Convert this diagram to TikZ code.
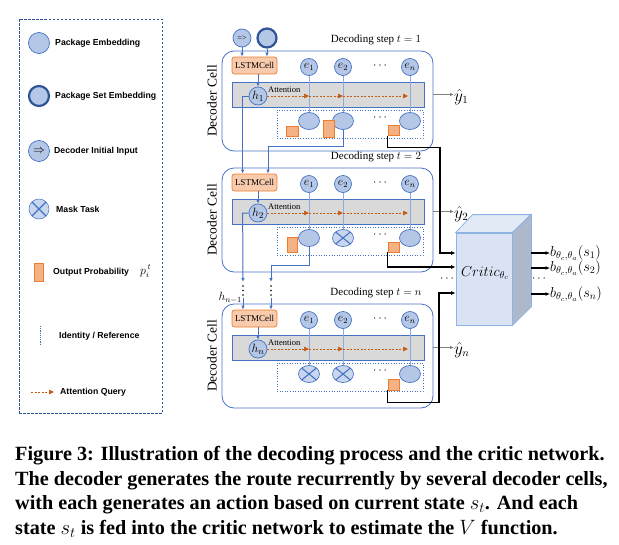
\documentclass[tikz,border=0pt]{standalone}
\usepackage{fontspec}
\setmainfont{Liberation Serif}
\newfontfamily\legfont{Liberation Sans}
\usetikzlibrary{arrows.meta,shapes.geometric,calc}
\pgfdeclarelayer{back}
\pgfdeclarelayer{mid}
\pgfsetlayers{back,mid,main}
\definecolor{cblue}{HTML}{4472C4}
\definecolor{cdark}{HTML}{2F5597}
\definecolor{cfill}{HTML}{B4C7E7}
\definecolor{mfill}{HTML}{C9D7EE}
\definecolor{corange}{HTML}{ED7D31}
\definecolor{ofill}{HTML}{F4B183}
\definecolor{lfill}{HTML}{F8CBAD}
\definecolor{gfill}{HTML}{D9D9D9}
\definecolor{catt}{HTML}{C55A11}
\definecolor{cident}{HTML}{8FAADC}
\definecolor{critf}{HTML}{DAE3F3}
\definecolor{critt}{HTML}{E2EAF6}
\definecolor{crits}{HTML}{ADB9CA}
\definecolor{critb}{HTML}{8DB4E2}

\newcommand\mkcell[6]{%
  \begin{pgfonlayer}{back}
    \node[cellbox, minimum width=211pt, minimum height={(#3-#2)*1pt}] (cell#1) at ({327.5},{(#2+#3)/2}) {};
    \node[bar] (bar#1) at (328,#2+43.5) {};
    \node[outbox] (ob#1) at (350,#2+73) {};
  \end{pgfonlayer}
  \node[rotate=90, font=\fontsize{13.5}{13.5}\selectfont] (dc#1) at (212,{(#2+#3)/2}) {Decoder Cell};
  \node[font=\fontsize{11}{11}\selectfont] (st#1) at (376,#2-11) {Decoding step $t=#4$};
  \node[lstm] (lstm#1) at (254.5,#2+14.5) {LSTMCell};
  \node[emb] (ea#1) at (309,#2+16) {$e_1$};
  \node[emb] (eb#1) at (343,#2+16) {$e_2$};
  \node[emb] (en#1) at (410,#2+16) {$e_n$};
  \node[font=\fontsize{12}{12}\selectfont] (ed#1) at (380,#2+15) {$\cdots$};
  \node[emb, minimum size=18pt, font=\fontsize{12.5}{12.5}\selectfont] (h#1) at (258,#2+45) {$h_{#4}$};
  \node[anchor=west, inner sep=0pt, font=\fontsize{8.5}{8.5}\selectfont] (at#1) at (268,#2+38.5) {Attention};
  \node[#5] (oa#1) at (309,#2+70) {};
  \node[#6] (obb#1) at (343,#2+70) {};
  \node[outemb] (on#1) at (410,#2+70) {};
  \node[font=\fontsize{12}{12}\selectfont] (od#1) at (380,#2+67) {$\cdots$};
  \begin{pgfonlayer}{mid}
    \draw[ident] (ea#1) -- (oa#1);
    \draw[ident] (eb#1) -- (obb#1);
    \draw[ident] (en#1) -- (on#1);
  \end{pgfonlayer}
  \draw[conn] (h#1.north |- lstm#1.south) -- (h#1.north);
  \draw[att] (h#1.east) -- (ea#1 |- h#1.east);
  \draw[att] (ea#1 |- h#1.east) -- (eb#1 |- h#1.east);
  \draw[att] (eb#1 |- h#1.east) -- ([xshift=-2pt]en#1 |- h#1.east);
  \node[anchor=west, inner sep=0pt, font=\fontsize{16}{16}\selectfont] (yh#1) at (454,#2+46) {$\hat{y}_{#4}$};
  \draw[yout] (cell#1.east |- bar#1) -- (yh#1.west |- bar#1);
}

\begin{document}
\begin{tikzpicture}[x=1pt,y=-1pt,
  emb/.style={circle, draw=cblue, fill=cfill, line width=0.7pt, inner sep=0pt, minimum size=17pt, font=\fontsize{12}{12}\selectfont},
  outemb/.style={ellipse, draw=cblue, fill=cfill, line width=0.7pt, inner sep=0pt, minimum width=21pt, minimum height=17pt},
  maskx/.style={fill=mfill, path picture={\draw[cblue, line width=1.1pt] (path picture bounding box.north west) -- (path picture bounding box.south east) (path picture bounding box.south west) -- (path picture bounding box.north east);}},
  maskemb/.style={outemb, maskx},
  prob/.style={draw=corange, fill=ofill, line width=0.6pt, inner sep=0pt},
  lstm/.style={draw=corange, fill=lfill, rounded corners=2.5pt, line width=0.7pt, minimum width=45pt, minimum height=17pt, inner sep=0pt, font=\fontsize{9}{9}\selectfont},
  bar/.style={draw=cblue, fill=gfill, line width=0.7pt, minimum width=192pt, minimum height=25pt, inner sep=0pt},
  outbox/.style={draw=cblue, dotted, line width=0.6pt, minimum width=146pt, minimum height=28pt, inner sep=0pt},
  cellbox/.style={draw=cblue, line width=0.8pt, rounded corners=12pt, inner sep=0pt},
  conn/.style={draw=cblue, line width=1pt, -{Latex[length=4pt,width=3.5pt]}},
  att/.style={draw=catt, dash pattern=on 2pt off 1.5pt, line width=0.7pt, -{Triangle[length=5pt,width=4.5pt]}},
  ident/.style={draw=cident, line width=0.4pt},
  yout/.style={draw=black!50, line width=1pt, -{Latex[length=4pt,width=3.5pt]}},
  crit/.style={draw=black, line width=1.1pt, -{Latex[length=4.5pt,width=4pt]}},
  leg/.style={anchor=west, inner sep=0pt, font=\legfont\bfseries\fontsize{8.7}{8.7}\selectfont},
  dotline/.style={draw=black, line width=1.8pt, line cap=round, dash pattern=on 0pt off 4.5pt},
  captext/.style={anchor=west, inner sep=0pt, font=\bfseries\fontsize{20.2}{20.2}\selectfont},
  blab/.style={anchor=west, inner sep=0pt, font=\fontsize{14.5}{14.5}\selectfont},
]
\useasboundingbox (0,0) rectangle (619,544);

% ---------------- legend ----------------
\node[draw=cdark, dash pattern=on 2.5pt off 1.5pt, line width=0.7pt, minimum width=143pt, minimum height=394pt, inner sep=0pt] (legend) at (90.5,216) {};
\node[emb, minimum size=21pt] (lg1) at (39,43) {};
\node[leg] (lt1) at (55,43) {Package Embedding};
\node[emb, minimum size=20pt, draw=cdark, line width=2.2pt] (lg2) at (39,96) {};
\node[leg] (lt2) at (55,96) {Package Set Embedding};
\node[emb, minimum size=21pt, font=\fontsize{12}{12}\selectfont] (lg3) at (39,151) {$\Rightarrow$};
\node[leg] (lt3) at (54,151) {Decoder Initial Input};
\node[circle, draw=cblue, line width=0.5pt, inner sep=0pt, minimum size=20pt, maskx] (lg4) at (39,209) {};
\node[leg] (lt4) at (56,209) {Mask Task};
\node[prob, minimum width=9pt, minimum height=18pt] (lg5) at (38.5,272) {};
\node[leg] (lt5) at (53,272) {Output Probability};
\node[anchor=west, inner sep=0pt, font=\fontsize{12}{12}\selectfont] (lp5) at (140,271) {$p_{i}^{\,t}$};
\coordinate (lg6a) at (40,326);
\coordinate (lg6b) at (40,345);
\draw[cblue, dash pattern=on 1.2pt off 1pt, line width=0.5pt] (lg6a) -- (lg6b);
\node[leg] (lt6) at (59,336) {Identity / Reference};
\coordinate (lg7a) at (31,392);
\coordinate (lg7b) at (54,392);
\draw[att] (lg7a) -- (lg7b);
\node[leg] (lt7) at (60,392) {Attention Query};

% ---------------- decoder cells ----------------
\mkcell{1}{51}{151}{1}{outemb}{outemb}
\mkcell{2}{168}{272}{2}{outemb}{maskemb}
\mkcell{n}{304}{408}{n}{maskemb}{maskemb}

% output probabilities
\node[prob, minimum width=12pt, minimum height=10pt] (r11) at (292,131) {};
\node[prob, minimum width=11pt, minimum height=17pt] (r12) at (328.5,128.5) {};
\node[prob, minimum width=11pt, minimum height=10pt] (r13) at (393.5,130.5) {};
\node[prob, minimum width=10pt, minimum height=15pt] (r21) at (292,244.5) {};
\node[prob, minimum width=11pt, minimum height=10pt] (r23) at (393.5,247) {};
\node[prob, minimum width=11pt, minimum height=11pt] (rn3) at (393.5,384.5) {};

% initial inputs
\node[emb, minimum size=18pt, font=\fontsize{8}{8}\selectfont] (init) at (242,38) {=>};
\node[emb, minimum size=19pt, draw=cdark, line width=2.2pt] (pset) at (267,38) {};
\draw[conn] (init) -- (init |- lstm1.north);
\draw[conn] (pset) -- (pset |- lstm1.north);

% recurrence cell 1 -> cell 2
\draw[conn] (h1.west) -- ++(-6,0) coordinate (c1) -- (c1 |- lstm2.north);
\draw[conn] (obb1.south) -- ++(0,16.5) -| ([xshift=13.5pt]lstm2.north);

% recurrence cell 2 -> cell n
\coordinate (ga1) at (243,282);
\coordinate (gb1) at (271,282);
\coordinate (ga2) at (243,298);
\coordinate (gb2) at (271,298);
\draw[conn] (h2.west) -- ++(-6,0) coordinate (c2) -- (ga1);
\draw[conn] (oa2.south) -- ++(0,18.5) -| (gb1);
\draw[dotline] ([yshift=-4pt]ga1) -- (ga2);
\draw[dotline] ([yshift=-4pt]gb1) -- (gb2);
\draw[conn] (ga2) -- (ga2 |- lstmn.north);
\draw[conn] (gb2) -- (gb2 |- lstmn.north);
\node[anchor=east, inner sep=0pt, font=\fontsize{12}{12}\selectfont] (hnm) at (242,298) {$h_{n-1}$};

% ---------------- critic ----------------
\node[draw=critb, fill=critf, line width=0.8pt, minimum width=56pt, minimum height=92pt, inner sep=0pt] (critic) at (484,279) {};
\draw[draw=critb, fill=critt, line width=0.8pt] (critic.north west) -- ++(17,-18) -- ++(58,0) -- (critic.north east) -- cycle;
\draw[draw=critb, fill=crits, line width=0.8pt] (critic.north east) -- ++(19,-18) -- ++(0,92) -- (critic.south east) -- cycle;
\node[font=\fontsize{14.5}{14.5}\selectfont] (critlabel) at (485,273) {$Critic_{\theta_c}$};

\coordinate (k1) at (440,253);
\coordinate (k2) at (440,267);
\coordinate (k3) at (439,293);
\draw[crit] (r13.south west) -- ++(0,12) -| (k1) -- (critic.west |- k1);
\draw[crit] (r23.south west) |- (critic.west |- k2);
\draw[crit] (rn3.south west) -- ++(0,12) -| (k3) -- (critic.west |- k3);
\node[font=\fontsize{12}{12}\selectfont] (cd1) at (447,279) {$\cdots$};

\coordinate (sr) at ([xshift=19pt]critic.east);
\node[blab] (b1) at (550,253) {$b_{\theta_c,\theta_a}(s_1)$};
\node[blab] (b2) at (550,268) {$b_{\theta_c,\theta_a}(s_2)$};
\node[blab] (b3) at (550,294) {$b_{\theta_c,\theta_a}(s_n)$};
\draw[crit] (sr |- b1.west) -- (b1.west);
\draw[crit] (sr |- b2.west) -- (b2.west);
\draw[crit] (sr |- b3.west) -- (b3.west);
\node[font=\fontsize{12}{12}\selectfont] (cd2) at (539,279) {$\cdots$};

% ---------------- caption ----------------
\node[captext] (cap1) at (15,456) {Figure 3: Illustration of the decoding process and the critic network.};
\node[captext] (cap2) at (15,481) {The decoder generates the route recurrently by several decoder cells,};
\node[captext] (cap3) at (15,505) {with each generates an action based on current state $s_t$. And each};
\node[captext] (cap4) at (15,529) {state $s_t$ is fed into the critic network to estimate the $V$ function.};
\end{tikzpicture}
\end{document}
